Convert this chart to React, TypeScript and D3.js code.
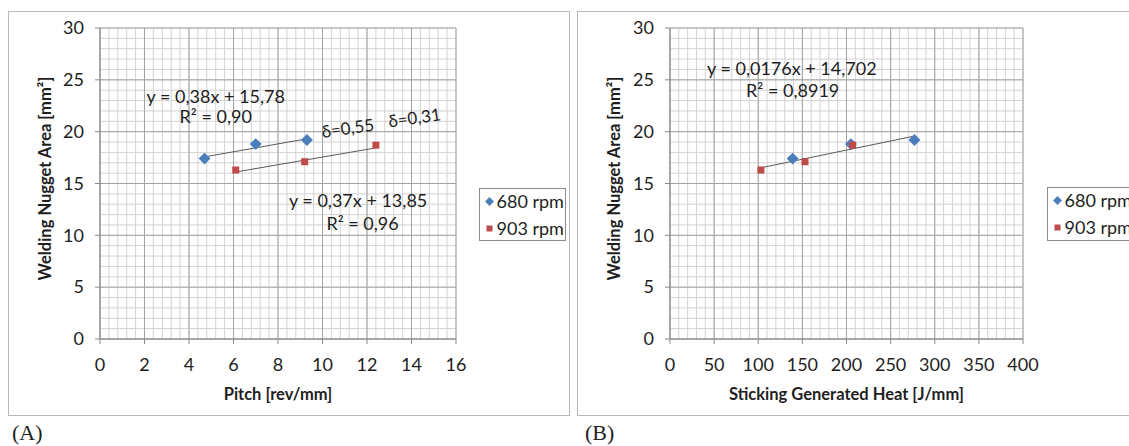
import React from "react";
import * as d3 from "d3";

// ---- data ----
const pitch680 = [4.7, 7.0, 9.3];
const area680 = [17.4, 18.8, 19.2];
const pitch903 = [6.1, 9.2, 12.4];
const area903 = [16.3, 17.1, 18.7];
const heat680 = [139, 205, 277];
const heat903 = [103, 153, 207];

const seriesNames = ["680 rpm", "903 rpm"];
const yTicks = [0, 5, 10, 15, 20, 25, 30];
const xTicksA = [0, 2, 4, 6, 8, 10, 12, 14, 16];
const xTicksB = [0, 50, 100, 150, 200, 250, 300, 350, 400];

const fitA680 = { m: 0.38, b: 15.78 };
const fitA903 = { m: 0.37, b: 13.85 };
const fitB = { m: 0.0176, b: 14.702 };

const FONT = "Lato, 'Open Sans', sans-serif";
const BLUE = "#4a7ebb";
const RED = "#be4b48";
const TXT = "#1e1e1e";

type Pt = { x: number; y: number };
type Ann = { text: string; x: number; y: number; anchor?: string; rotate?: number; size?: number };
type Fit = { m: number; b: number; x0: number; x1: number };

function Panel(props: {
  box: { x: number; y: number; w: number; h: number };
  plot: { l: number; r: number; t: number; b: number };
  xMax: number;
  xTicks: number[];
  xMinor: number;
  xTitle: string;
  s680: Pt[];
  s903: Pt[];
  fits: Fit[];
  anns: Ann[];
  legend: { x: number; y: number; w: number; h: number };
}) {
  const { box, plot, xMax, xTicks, xMinor, xTitle, s680, s903, fits, anns, legend } = props;
  const x = d3.scaleLinear().domain([0, xMax]).range([plot.l, plot.r]);
  const y = d3.scaleLinear().domain([0, 30]).range([plot.b, plot.t]);
  const minorX = d3.range(0, xMax + 1e-9, xMinor);
  const minorY = d3.range(0, 30.001, 1);
  const diamond = d3.symbol().type(d3.symbolDiamond2).size(90)();
  return (
    <g>
      <rect x={box.x} y={box.y} width={box.w} height={box.h} fill="#fff" stroke="#b8b8b8" strokeWidth={1} />
      {minorX.map((v, i) => (
        <line key={"mx" + i} x1={x(v)} x2={x(v)} y1={y(0)} y2={y(30)} stroke="#d3d3d3" strokeWidth={1} />
      ))}
      {minorY.map((v, i) => (
        <line key={"my" + i} x1={x(0)} x2={x(xMax)} y1={y(v)} y2={y(v)} stroke="#d3d3d3" strokeWidth={1} />
      ))}
      {xTicks.map((v, i) => (
        <line key={"Mx" + i} x1={x(v)} x2={x(v)} y1={y(0)} y2={y(30)} stroke="#a3a3a3" strokeWidth={1} />
      ))}
      {yTicks.map((v, i) => (
        <line key={"My" + i} x1={x(0)} x2={x(xMax)} y1={y(v)} y2={y(v)} stroke="#a3a3a3" strokeWidth={1} />
      ))}
      {/* axes */}
      <line x1={x(0)} x2={x(0)} y1={y(0)} y2={y(30)} stroke="#888" />
      <line x1={x(0)} x2={x(xMax)} y1={y(0)} y2={y(0)} stroke="#888" />
      {yTicks.map((v, i) => (
        <g key={"yt" + i}>
          <line x1={x(0) - 5} x2={x(0)} y1={y(v)} y2={y(v)} stroke="#888" />
          <text x={x(0) - 16} y={y(v)} dy="0.35em" textAnchor="end" fontSize={18} fontFamily={FONT} fill={TXT}>
            {v}
          </text>
        </g>
      ))}
      {xTicks.map((v, i) => (
        <g key={"xt" + i}>
          <line x1={x(v)} x2={x(v)} y1={y(0)} y2={y(0) + 5} stroke="#888" />
          <text x={x(v)} y={y(0) + 32} textAnchor="middle" fontSize={18} fontFamily={FONT} fill={TXT}>
            {v}
          </text>
        </g>
      ))}
      <text
        transform={`translate(${box.x + 42},${(plot.t + plot.b) / 2 - 5}) rotate(-90)`}
        textAnchor="middle"
        fontSize={16.5}
        fontWeight="bold"
        fontFamily={FONT}
        fill={TXT}
      >
        Welding Nugget Area [mm²]
      </text>
      <text x={(plot.l + plot.r) / 2} y={plot.b + 61} textAnchor="middle" fontSize={16.5} fontWeight="bold" fontFamily={FONT} fill={TXT}>
        {xTitle}
      </text>
      {/* trend lines */}
      {fits.map((f, i) => (
        <line key={"f" + i} x1={x(f.x0)} y1={y(f.m * f.x0 + f.b)} x2={x(f.x1)} y2={y(f.m * f.x1 + f.b)} stroke="#595959" strokeWidth={1} />
      ))}
      {s680.map((p, i) => (
        <path key={"b" + i} d={diamond || ""} transform={`translate(${x(p.x)},${y(p.y)})`} fill={BLUE} />
      ))}
      {s903.map((p, i) => (
        <rect key={"r" + i} x={x(p.x) - 3.5} y={y(p.y) - 3.5} width={7} height={7} fill={RED} />
      ))}
      {anns.map((a, i) => (
        <text
          key={"a" + i}
          transform={`translate(${x(a.x)},${y(a.y)}) rotate(${a.rotate || 0})`}
          textAnchor={a.anchor || "middle"}
          fontSize={a.size || 18}
          fontFamily={FONT}
          fill={TXT}
        >
          {a.text}
        </text>
      ))}
      {/* legend */}
      <rect x={legend.x} y={legend.y} width={legend.w} height={legend.h} fill="#fff" stroke="#8c8c8c" strokeWidth={1} />
      <path d={d3.symbol().type(d3.symbolDiamond2).size(50)() || ""} transform={`translate(${legend.x + 10},${legend.y + 13})`} fill={BLUE} />
      <text x={legend.x + 17} y={legend.y + 13} dy="0.35em" fontSize={18} fontFamily={FONT} fill={TXT}>
        {seriesNames[0]}
      </text>
      <rect x={legend.x + 7} y={legend.y + 37} width={6} height={6} fill={RED} />
      <text x={legend.x + 17} y={legend.y + 40} dy="0.35em" fontSize={18} fontFamily={FONT} fill={TXT}>
        {seriesNames[1]}
      </text>
    </g>
  );
}

export default function App() {
  const a680 = pitch680.map((v, i) => ({ x: v, y: area680[i] }));
  const a903 = pitch903.map((v, i) => ({ x: v, y: area903[i] }));
  const b680 = heat680.map((v, i) => ({ x: v, y: area680[i] }));
  const b903 = heat903.map((v, i) => ({ x: v, y: area903[i] }));
  const allHeat = heat680.concat(heat903);
  return (
    <svg width={1129} height={446} style={{ display: "block", position: "absolute", left: 0, top: 0 }}>
      <rect x={0} y={0} width={1129} height={446} fill="#fff" />
      <Panel
        box={{ x: 8.5, y: 11.5, w: 561, h: 404 }}
        plot={{ l: 100, r: 456, t: 28, b: 339 }}
        xMax={16}
        xTicks={xTicksA}
        xMinor={0.4}
        xTitle="Pitch [rev/mm]"
        s680={a680}
        s903={a903}
        fits={[
          { ...fitA680, x0: d3.min(pitch680)!, x1: d3.max(pitch680)! },
          { ...fitA903, x0: d3.min(pitch903)!, x1: d3.max(pitch903)! },
        ]}
        anns={[
          { text: "y = 0,38x + 15,78", x: 5.2, y: 22.8 },
          { text: "R² = 0,90", x: 5.2, y: 20.8 },
          { text: "y = 0,37x + 13,85", x: 11.6, y: 12.7 },
          { text: "R² = 0,96", x: 11.8, y: 10.5 },
          { text: "δ=0,55", x: 10.0, y: 19.4, anchor: "start", rotate: -8, size: 17 },
          { text: "δ=0,31", x: 13.0, y: 20.4, anchor: "start", rotate: -8, size: 17 },
        ]}
        legend={{ x: 479.5, y: 188.5, w: 86, h: 52 }}
      />
      <Panel
        box={{ x: 577.5, y: 11.5, w: 570, h: 404 }}
        plot={{ l: 670, r: 1023, t: 28, b: 339 }}
        xMax={400}
        xTicks={xTicksB}
        xMinor={10}
        xTitle="Sticking Generated Heat [J/mm]"
        s680={b680}
        s903={b903}
        fits={[{ ...fitB, x0: d3.min(allHeat)!, x1: d3.max(allHeat)! }]}
        anns={[
          { text: "y = 0,0176x + 14,702", x: 138, y: 25.5 },
          { text: "R² = 0,8919", x: 139, y: 23.3 },
        ]}
        legend={{ x: 1047.5, y: 187.5, w: 90, h: 53 }}
      />
      <text x={12} y={440} fontSize={22} fontFamily="'Liberation Serif', 'DejaVu Serif', serif" fill="#222">
        (A)
      </text>
      <text x={585} y={440} fontSize={22} fontFamily="'Liberation Serif', 'DejaVu Serif', serif" fill="#222">
        (B)
      </text>
    </svg>
  );
}
